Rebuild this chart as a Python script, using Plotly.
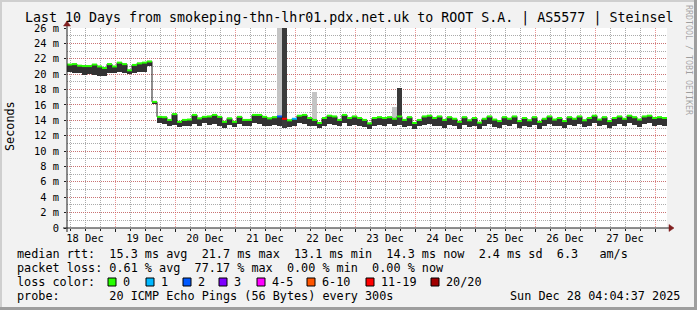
import plotly.graph_objects as go
import pandas as pd

# ---------------- data ----------------
title_text = "Last 10 Days from smokeping-thn-lhr01.pdx.net.uk to ROOT S.A. | AS5577 | Steinsel"
x_range = ["2025-12-18 04:48:00", "2025-12-28 04:48:00"]
bin_start = "2025-12-18 04:48:00"
bin_hours = 2

median_ms = [
    21.25, 21.3, 21.1, 21.05, 21.05, 21.25, 21.0, 20.8, 21.3, 21.0,
    21.5, 21.3, 20.5, 21.2, 21.4, 21.5, 21.65, 16.4, 14.45, 14.4,
    14.05, 14.8, 13.8, 14.05, 14.1, 14.7, 14.25, 14.45, 14.5, 14.7,
    14.45, 13.8, 14.25, 13.8, 14.45, 14.05, 14.05, 14.7, 14.7, 14.45,
    14.25, 14.4, 14.5, 14.2, 14.0, 14.2, 14.6, 14.7, 14.3, 14.05,
    13.65, 14.3, 14.6, 14.5, 14.05, 14.7, 14.3, 14.5, 14.3, 14.05,
    13.6, 14.3, 14.4, 14.3, 14.4, 14.2, 14.5, 14.05, 14.4, 13.65,
    14.05, 14.5, 14.6, 14.3, 14.5, 14.05, 14.4, 14.2, 13.8, 14.4,
    14.0, 14.3, 13.7, 14.2, 14.5, 14.1, 13.9, 14.4, 14.2, 14.5,
    13.9, 14.3, 14.0, 14.4, 13.8, 14.2, 14.5, 14.1, 14.3, 13.9,
    14.4, 14.2, 14.5, 14.0, 14.3, 14.6, 14.1, 14.4, 13.9, 14.3,
    14.5, 14.2, 14.6, 14.4, 14.1, 14.5, 14.6, 14.3, 14.4, 14.3,
]
smoke_lo_ms = [
    20.3, 20.2, 20.1, 19.9, 20.0, 19.9, 19.8, 19.8, 20.2, 20.1,
    20.3, 20.1, 20.0, 20.1, 20.3, 20.3, 21.0, 16.1, 13.6, 13.5,
    13.2, 13.4, 13.1, 13.3, 13.2, 13.5, 13.3, 13.6, 13.4, 13.5,
    13.3, 13.0, 13.4, 13.1, 13.5, 13.2, 13.3, 13.6, 13.5, 13.3,
    13.2, 13.4, 13.3, 13.0, 13.1, 13.3, 13.6, 13.5, 13.3, 13.2,
    13.0, 13.3, 13.5, 13.4, 13.2, 13.6, 13.3, 13.4, 13.2, 13.1,
    12.9, 13.3, 13.4, 13.2, 13.5, 13.3, 13.4, 13.1, 13.3, 12.9,
    13.2, 13.4, 13.5, 13.2, 13.3, 13.0, 13.4, 13.2, 12.9, 13.4,
    13.1, 13.3, 12.9, 13.2, 13.5, 13.1, 13.0, 13.4, 13.2, 13.5,
    13.0, 13.3, 13.1, 13.4, 12.9, 13.2, 13.5, 13.2, 13.3, 13.0,
    13.4, 13.2, 13.5, 13.1, 13.3, 13.6, 13.2, 13.4, 13.0, 13.3,
    13.5, 13.2, 13.6, 13.4, 13.1, 13.5, 13.6, 13.3, 13.4, 13.3,
]
spike_bins = [42, 43, 49, 65, 66]
spike_light_top_ms = [30.0, 30.0, 17.7, 15.7, 15.7]
spike_dark_top_ms = [None, 30.0, None, None, 18.2]

loss_bins = [42, 43, 45]
loss_counts = [2, 15, 1]
loss_labels = ["0", "1", "2", "3", "4-5", "6-10", "11-19", "20/20"]
loss_upper = [0, 1, 2, 3, 5, 10, 19, 20]
loss_colors = ["#26ff00", "#00b8ff", "#0059ff", "#7e00ff", "#ff00ff", "#ff5500", "#ff0000", "#a10000"]

y_tick_vals = [0, 2, 4, 6, 8, 10, 12, 14, 16, 18, 20, 22, 24, 26]
y_tick_text = ["0", "2 m", "4 m", "6 m", "8 m", "10 m", "12 m", "14 m", "16 m", "18 m",
               "20 m", "22 m", "24 m", "26 m"]

legend_rows = [
    "median rtt:  15.3 ms avg  21.7 ms max  13.1 ms min  14.3 ms now  2.4 ms sd  6.3   am/s",
    "packet loss: 0.61 % avg  77.17 % max  0.00 % min  0.00 % now",
    "loss color:",
    "probe:       20 ICMP Echo Pings (56 Bytes) every 300s",
]
timestamp_text = "Sun Dec 28 04:04:37 2025"
unit_text = "Seconds"
watermark_text = "RRDTOOL / TOBI OETIKER"

# ---------------- layout geometry ----------------
W, H = 697, 310
L, T, PW, PH = 67, 28, 600, 200
MONO = "DejaVu Sans Mono"


def px_x(px):
    return (px - L) / PW


def px_y(py):
    return (T + PH - py) / PH


def nb(s):
    return s.replace(" ", "\u00a0")


n = len(median_ms)
starts = pd.date_range(bin_start, periods=n + 1, freq=f"{bin_hours}h")
centers = starts[:-1] + pd.Timedelta(hours=bin_hours / 2)
bw = bin_hours * 3600 * 1000

fig = go.Figure()

# light spikes
sx = [centers[b] for b in spike_bins]
fig.add_trace(go.Bar(x=sx, base=[smoke_lo_ms[b] for b in spike_bins],
                     y=[top - smoke_lo_ms[b] for b, top in zip(spike_bins, spike_light_top_ms)],
                     width=bw, marker=dict(color="#c4c4c4", line=dict(width=0)),
                     hoverinfo="skip"))
# dark smoke band
fig.add_trace(go.Bar(x=list(centers), base=smoke_lo_ms,
                     y=[m - lo for m, lo in zip(median_ms, smoke_lo_ms)],
                     width=bw, marker=dict(color="#333333", line=dict(width=0)),
                     hoverinfo="skip"))
# dark spikes
dk = [(b, t) for b, t in zip(spike_bins, spike_dark_top_ms) if t is not None]
fig.add_trace(go.Bar(x=[centers[b] for b, _ in dk], base=[smoke_lo_ms[b] for b, _ in dk],
                     y=[t - smoke_lo_ms[b] for b, t in dk],
                     width=bw, marker=dict(color="#3a3a3a", line=dict(width=0)),
                     hoverinfo="skip"))
# median step line (dark connectors)
fig.add_trace(go.Scatter(x=list(starts), y=median_ms + [median_ms[-1]], mode="lines",
                         line=dict(color="#1f1f1f", width=1, shape="hv"), hoverinfo="skip"))


def color_for(count):
    for up, c in zip(loss_upper, loss_colors):
        if count <= up:
            return c
    return loss_colors[-1]


loss_map = dict(zip(loss_bins, loss_counts))
groups = {}
for i, m in enumerate(median_ms):
    c = color_for(loss_map.get(i, 0))
    gx, gy = groups.setdefault(c, ([], []))
    gx += [starts[i], starts[i + 1], None]
    gy += [m, m, None]
for c, (gx, gy) in groups.items():
    fig.add_trace(go.Scatter(x=gx, y=gy, mode="lines", line=dict(color=c, width=2),
                             hoverinfo="skip"))

MAJ = "rgba(222,79,79,0.6)"
MIN = "rgba(143,143,143,0.75)"

fig.update_layout(
    width=W, height=H, margin=dict(l=L, r=W - L - PW, t=T, b=H - T - PH, pad=0),
    paper_bgcolor="#f2f2f2", plot_bgcolor="#ffffff", showlegend=False,
    barmode="overlay", bargap=0,
    font=dict(family=MONO, size=10.4, color="#000000"),
    xaxis=dict(type="date", range=x_range, dtick=86400000, tick0="2025-12-18 00:00:00",
               ticklabelmode="period", tickformat="%d %b", showgrid=True,
               gridcolor=MAJ, griddash="1px,1px", gridwidth=1,
               ticks="outside", ticklen=3, tickcolor="#1f1f1f",
               ticklabelstandoff=-2,
               showline=False, zeroline=False,
               tickfont=dict(family=MONO, size=10.4, color="#000000"),
               minor=dict(dtick=6 * 3600 * 1000, showgrid=True, gridcolor=MIN,
                          griddash="1px,1px", ticks="outside", ticklen=2, tickcolor="#1f1f1f")),
    yaxis=dict(range=[0, 26], tickvals=y_tick_vals, ticktext=y_tick_text,
               showgrid=True, gridcolor=MAJ, griddash="1px,1px", gridwidth=1,
               ticks="outside", ticklen=2, tickcolor="#1f1f1f",
               ticklabelstandoff=3,
               showline=False, zeroline=False,
               tickfont=dict(family=MONO, size=10.4, color="#000000"),
               minor=dict(dtick=1, showgrid=True, gridcolor=MIN, griddash="1px,1px")),
)

shapes = []
# outer 3D frame
shapes.append(dict(type="rect", xref="paper", yref="paper", x0=px_x(0), x1=px_x(W), y0=px_y(0), y1=px_y(2),
                   fillcolor="#cfcfcf", line=dict(width=0), layer="below"))
shapes.append(dict(type="rect", xref="paper", yref="paper", x0=px_x(0), x1=px_x(2), y0=px_y(0), y1=px_y(H),
                   fillcolor="#cfcfcf", line=dict(width=0), layer="below"))
shapes.append(dict(type="rect", xref="paper", yref="paper", x0=px_x(W - 3), x1=px_x(W), y0=px_y(0), y1=px_y(H),
                   fillcolor="#9e9e9e", line=dict(width=0), layer="below"))
shapes.append(dict(type="rect", xref="paper", yref="paper", x0=px_x(0), x1=px_x(W), y0=px_y(H - 3), y1=px_y(H),
                   fillcolor="#9e9e9e", line=dict(width=0), layer="below"))
# axes
shapes.append(dict(type="line", xref="paper", yref="paper", x0=px_x(63), x1=px_x(670), y0=0, y1=0,
                   line=dict(color="#1f1f1f", width=1)))
shapes.append(dict(type="line", xref="paper", yref="paper", x0=0, x1=0, y0=px_y(232), y1=px_y(24),
                   line=dict(color="#1f1f1f", width=1)))
# arrows
ax_path = f"M {px_x(669)},{px_y(224.5)} L {px_x(674)},{px_y(228)} L {px_x(669)},{px_y(231.5)} Z"
ay_path = f"M {px_x(63.5)},{px_y(26)} L {px_x(67)},{px_y(21)} L {px_x(70.5)},{px_y(26)} Z"
for p in (ax_path, ay_path):
    shapes.append(dict(type="path", xref="paper", yref="paper", path=p,
                       fillcolor="#801f1f", line=dict(color="#801f1f", width=0.5)))
# loss colour boxes
box_left_px = [108, 146, 183, 219, 257, 307, 366, 431]
for bx, c in zip(box_left_px, loss_colors):
    shapes.append(dict(type="rect", xref="paper", yref="paper",
                       x0=px_x(bx), x1=px_x(bx + 8), y0=px_y(286), y1=px_y(278),
                       fillcolor=c, line=dict(color="#000000", width=1)))

ann = []


def add_text(text, px, py, size=11.8, xanchor="left", angle=0, color="#000000"):
    ann.append(dict(text=nb(text), x=px_x(px), y=px_y(py), xref="paper", yref="paper",
                    showarrow=False, xanchor=xanchor, yanchor="middle", textangle=angle,
                    borderpad=0, font=dict(family=MONO, size=size, color=color)))


add_text(title_text, 348.5, 17.5, size=13.3, xanchor="center")
row_y = [254, 268, 282, 296]
for txt, ry in zip(legend_rows, row_y):
    add_text(txt, 16, ry)
for bx, lab in zip(box_left_px, loss_labels):
    add_text(lab, bx + 14, 282)
add_text(timestamp_text, 681, 296, xanchor="right")
add_text(unit_text, 10, 126, angle=-90, xanchor="center")
add_text(watermark_text, 689, 60, size=8.3, xanchor="center", angle=90, color="rgba(0,0,0,0.35)")

fig.update_layout(shapes=shapes, annotations=ann)
fig.write_html("out.html", config={"displayModeBar": False})
